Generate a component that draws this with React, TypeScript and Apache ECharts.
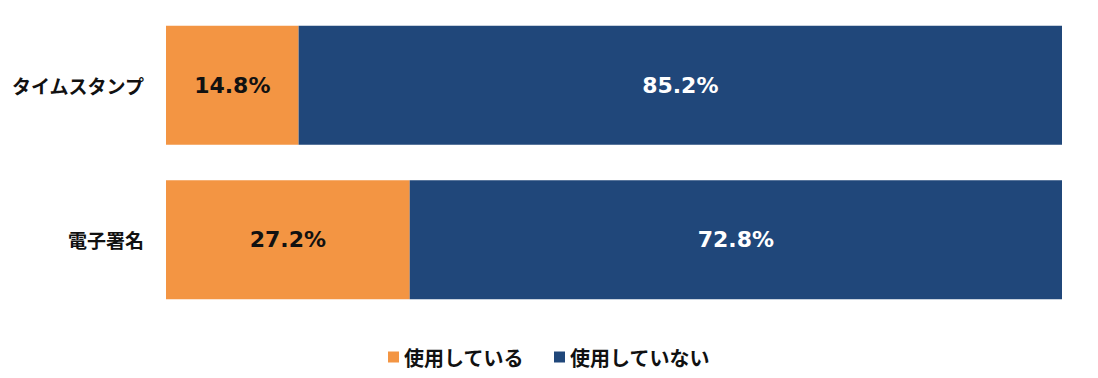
import React, { useEffect, useRef } from "react";
import * as echarts from "echarts";

const categories = ["タイムスタンプ", "電子署名"];
const seriesNames = ["使用している", "使用していない"];
const usedValues = [14.8, 27.2];
const notUsedValues = [85.2, 72.8];
const colors = ["#F39543", "#20477A"];
const labelColors = ["#111111", "#FFFFFF"];

export default function App() {
  const ref = useRef<HTMLDivElement>(null);
  useEffect(() => {
    const chart = echarts.init(ref.current!, null, { renderer: "svg" });
    const font = "'Noto Sans CJK JP', 'Noto Sans', sans-serif";
    const numFont = "'DejaVu Sans', Verdana, sans-serif";
    const values = [usedValues, notUsedValues];
    chart.setOption({
      animation: false,
      textStyle: { fontFamily: font },
      grid: { left: 166, right: 36, top: 8, bottom: 61, containLabel: false },
      xAxis: { type: "value", min: 0, max: 100, show: false },
      yAxis: {
        type: "category",
        data: categories,
        inverse: true,
        axisLine: { show: false },
        axisTick: { show: false },
        axisLabel: {
          margin: 22,
          fontSize: 19,
          fontWeight: "bold",
          color: "#111111",
          fontFamily: font,
          padding: [2, 0, 0, 0],
        },
      },
      legend: {
        bottom: 6,
        left: "center",
        itemWidth: 11,
        itemHeight: 11,
        itemGap: 30,
        icon: "rect",
        textStyle: { fontSize: 20, fontWeight: "bold", color: "#111111", fontFamily: font },
        data: seriesNames,
      },
      series: seriesNames.map((name, i) => ({
        name,
        type: "bar",
        stack: "total",
        barCategoryGap: "23%",
        data: values[i],
        itemStyle: { color: colors[i] },
        label: {
          show: true,
          position: "inside",
          formatter: (p: any) => p.value.toFixed(1) + "%",
          fontSize: 22,
          fontWeight: "bold",
          color: labelColors[i],
          fontFamily: numFont,
        },
      })),
    });
    return () => chart.dispose();
  }, []);
  return (
    <div
      ref={ref}
      style={{ position: "absolute", left: 0, top: 0, width: 1098, height: 378 }}
    />
  );
}
